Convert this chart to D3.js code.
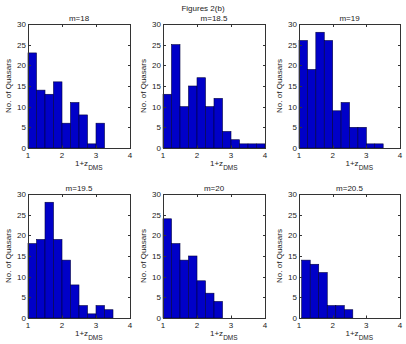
<!DOCTYPE html>
<html><head><meta charset="utf-8">
<script src="https://cdn.jsdelivr.net/npm/d3@7"></script>
<style>
html,body{margin:0;padding:0;background:#fff;}
text{font-family:"Liberation Sans",Arial,sans-serif;fill:#222;}
</style></head>
<body><svg id="c" width="406" height="344"></svg>
<script>
const figTitle = "Figures 2(b)";
const panelTitles = ["m=18","m=18.5","m=19","m=19.5","m=20","m=20.5"];
const counts18   = [23,14,13,16,6,11,8,1,6];
const counts18_5 = [13,25,10,15,17,10,12,4,2,1,1,1];
const counts19   = [26,19,28,26,9,11,5,5,1,1];
const counts19_5 = [18,19,28,19,14,8,3,1,3,2];
const counts20   = [24,18,14,15,9,6,4];
const counts20_5 = [14,13,11,3,3,2];
const binStarts = [1,1,1,1,1,1.08];
const binWidths = [0.25,0.25,0.25,0.25,0.25,0.253];
const xTicks = [1,2,3,4];
const yTicks = [0,5,10,15,20,25,30];
const yLabel = "No. of Quasars";
const xLabelMain = "1+z";
const xLabelSub = "DMS";

const allCounts = [counts18,counts18_5,counts19,counts19_5,counts20,counts20_5];
const lefts = [28,163,299], rights = [130,265,400];
const tops = [24,194], bottoms = [148,318];

const svg = d3.select("#c");
svg.append("text").attr("x",203).attr("y",11).attr("text-anchor","middle")
  .attr("font-size",8).text(figTitle);

allCounts.forEach((cnt,pi)=>{
  const col = pi%3, row = Math.floor(pi/3);
  const L=lefts[col], R=rights[col], T=tops[row], B=bottoms[row];
  const x = d3.scaleLinear().domain([1,4]).range([L,R]);
  const y = d3.scaleLinear().domain([0,30]).range([B,T]);
  const g = svg.append("g");
  // bars
  const s = binStarts[pi], w = binWidths[pi];
  g.selectAll("rect.bar").data(cnt).enter().append("rect")
    .attr("class","bar")
    .attr("x",(d,i)=>x(s+i*w))
    .attr("width",(d,i)=>x(s+(i+1)*w)-x(s+i*w))
    .attr("y",d=>y(d))
    .attr("height",d=>y(0)-y(d))
    .attr("fill","#0000c8")
    .attr("stroke","#000040").attr("stroke-width",0.6);
  // box
  g.append("rect").attr("x",L+0.5).attr("y",T+0.5).attr("width",R-L).attr("height",B-T)
    .attr("fill","none").attr("stroke","#333").attr("stroke-width",1);
  // ticks
  const tl = 2.5;
  xTicks.forEach(t=>{
    const xx = Math.round(x(t))+0.5;
    g.append("line").attr("x1",xx).attr("x2",xx).attr("y1",B).attr("y2",B-tl).attr("stroke","#333");
    g.append("line").attr("x1",xx).attr("x2",xx).attr("y1",T+0.5).attr("y2",T+0.5+tl).attr("stroke","#333");
    g.append("text").attr("x",x(t)).attr("y",B+10).attr("text-anchor","middle").attr("font-size",8).text(t);
  });
  yTicks.forEach(t=>{
    const yy = Math.round(y(t))+0.5;
    g.append("line").attr("x1",L+0.5).attr("x2",L+0.5+tl).attr("y1",yy).attr("y2",yy).attr("stroke","#333");
    g.append("line").attr("x1",R+0.5).attr("x2",R+0.5-tl).attr("y1",yy).attr("y2",yy).attr("stroke","#333");
    g.append("text").attr("x",L-2).attr("y",y(t)+3).attr("text-anchor","end").attr("font-size",8).text(t);
  });
  // panel title
  g.append("text").attr("x",(L+R)/2).attr("y",T-3).attr("text-anchor","middle").attr("font-size",8).text(panelTitles[pi]);
  // y label
  g.append("text").attr("transform",`translate(${L-17},${(T+B)/2}) rotate(-90)`)
    .attr("text-anchor","middle").attr("font-size",8).text(yLabel);
  // x label
  const xl = g.append("text").attr("x",(L+R)/2-4).attr("y",B+18).attr("font-size",8);
  xl.append("tspan").text(xLabelMain);
  xl.append("tspan").attr("dy",4).attr("font-size",6.5).text(xLabelSub);
});
</script></body></html>
